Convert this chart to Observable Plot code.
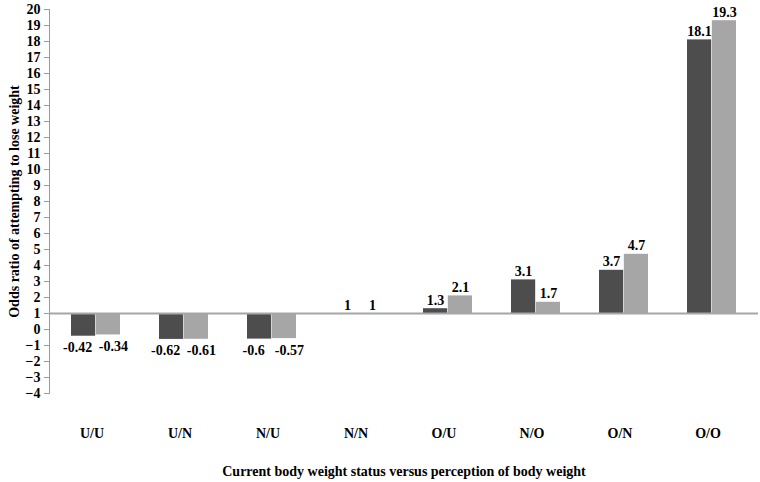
<!DOCTYPE html>
<html>
<head>
<meta charset="utf-8">
<script src="https://cdn.jsdelivr.net/npm/d3@7"></script>
<script src="https://cdn.jsdelivr.net/npm/@observablehq/plot@0.6"></script>
<style>
  html, body { margin: 0; padding: 0; background: #fff; }
  #chart svg { display: block; }
</style>
</head>
<body>
<div id="chart"></div>
<script>
const categories = ["U/U", "U/N", "N/U", "N/N", "O/U", "N/O", "O/N", "O/O"];
const seriesA = [-0.42, -0.62, -0.6, 1, 1.3, 3.1, 3.7, 18.1];
const seriesB = [-0.34, -0.61, -0.57, 1, 2.1, 1.7, 4.7, 19.3];
const yTicks = d3.range(-4, 21);
const baseline = 1;

const rowsA = categories.map((c, i) => ({category: c, value: seriesA[i]}));
const rowsB = categories.map((c, i) => ({category: c, value: seriesB[i]}));

const W = 760, H = 482, mL = 49, mR = 2;
const step = (W - mL - mR) / categories.length;
const bw = step * 0.56;
const half = bw / 2;

const font = "Liberation Serif, Times New Roman, serif";

const labelMarks = (rows, dxPos, dxNeg) => [
  Plot.text(rows.filter(d => d.value >= baseline), {
    x: "category", y: "value", text: d => String(d.value), dx: dxPos,
    lineAnchor: "bottom", dy: -4, fontWeight: "bold", fontSize: 14, fill: "#000"
  }),
  Plot.text(rows.filter(d => d.value < baseline), {
    x: "category", y: "value", text: d => String(d.value), dx: dxNeg,
    lineAnchor: "top", dy: 6, fontWeight: "bold", fontSize: 14, fill: "#000"
  })
];

const chart = Plot.plot({
  width: W,
  height: H,
  marginLeft: mL,
  marginRight: mR,
  marginTop: 9,
  marginBottom: 89,
  style: {fontFamily: font, fontSize: "14px", fontWeight: "bold", color: "#000", background: "#fff"},
  x: {domain: categories, paddingInner: 0.44, paddingOuter: 0.22},
  y: {domain: [-4, 20]},
  marks: [
    Plot.frame({anchor: "left", stroke: "#9a9a9a"}),
    Plot.axisY({ticks: yTicks, tickSize: 5, tickPadding: 4, stroke: "#9a9a9a", fontWeight: "bold", fontSize: 14,
      label: "Odds ratio of attempting to lose weight", labelAnchor: "center", labelOffset: 40, labelArrow: "none"}),
    Plot.axisX({tickSize: 0, tickPadding: 35, fontWeight: "bold", fontSize: 14, dx: -4,
      label: "Current body weight status versus perception of body weight", labelAnchor: "center", labelOffset: 82, labelArrow: "none"}),
    Plot.rectY(rowsA, {x: "category", y1: baseline, y2: "value", fill: "#4d4d4d", insetRight: half}),
    Plot.rectY(rowsB, {x: "category", y1: baseline, y2: "value", fill: "#a6a6a6", insetLeft: half}),
    Plot.ruleY([baseline], {stroke: "#a6a6a6", strokeWidth: 2}),
    ...labelMarks(rowsA, -half / 2, -half / 2 - 6),
    ...labelMarks(rowsB, half / 2, half / 2 + 5)
  ]
});
document.getElementById("chart").append(chart);
</script>
</body>
</html>
